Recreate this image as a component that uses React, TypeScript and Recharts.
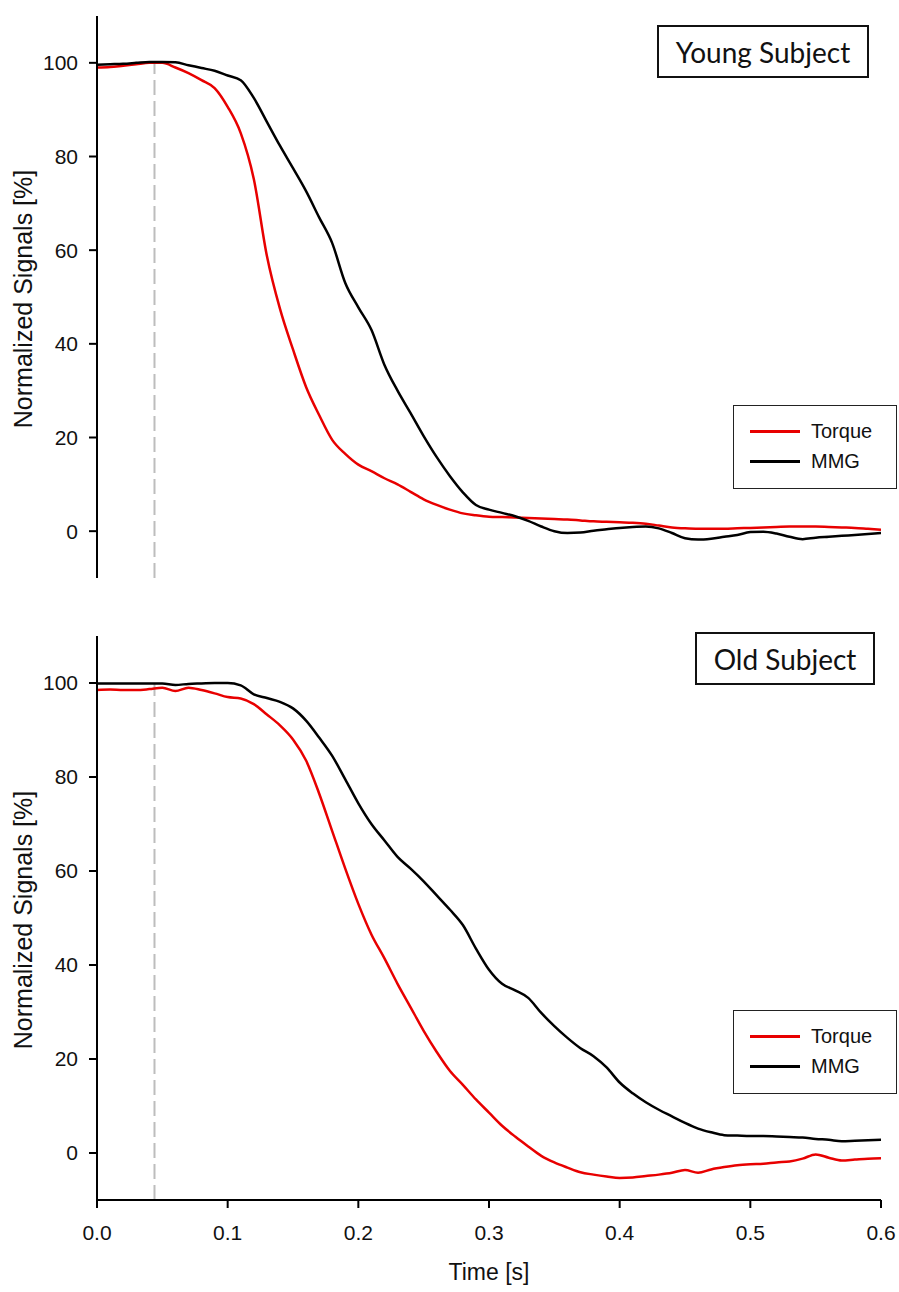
import React from 'react';
import { LineChart, Line, XAxis, YAxis, ReferenceLine, Label } from 'recharts';

const TIME = [
  0.0, 0.01, 0.02, 0.03, 0.04, 0.05, 0.06, 0.07, 0.08, 0.09,
  0.1, 0.11, 0.12, 0.13, 0.14, 0.15, 0.16, 0.17, 0.18, 0.19,
  0.2, 0.21, 0.22, 0.23, 0.24, 0.25, 0.26, 0.27, 0.28, 0.29,
  0.3, 0.31, 0.32, 0.33, 0.34, 0.35, 0.36, 0.37, 0.38, 0.39,
  0.4, 0.41, 0.42, 0.43, 0.44, 0.45, 0.46, 0.47, 0.48, 0.49,
  0.5, 0.51, 0.52, 0.53, 0.54, 0.55, 0.56, 0.57, 0.58, 0.59,
  0.6,
];

const YOUNG_TORQUE = [
  99.0, 99.1, 99.4, 99.7, 100.0, 100.0, 99.0, 97.8, 96.3, 94.6,
  90.6, 85.0, 75.2, 58.8, 47.5, 38.8, 30.8, 24.8, 19.5, 16.5,
  14.2, 12.8, 11.3, 10.0, 8.4, 6.8, 5.6, 4.6, 3.8, 3.4,
  3.1, 3.0, 2.9, 2.8, 2.7, 2.6, 2.5, 2.3, 2.1, 2.0,
  1.9, 1.8, 1.6, 1.2, 0.8, 0.6, 0.5, 0.5, 0.5, 0.6,
  0.7, 0.8, 0.9, 1.0, 1.0, 1.0, 0.9, 0.8, 0.7, 0.5,
  0.3,
];

const YOUNG_MMG = [
  99.6, 99.7, 99.8, 100.0, 100.2, 100.2, 100.1, 99.5, 98.9, 98.3,
  97.3, 96.3, 92.5, 87.4, 82.3, 77.5, 72.6, 67.0, 61.5, 53.0,
  47.8, 43.0, 35.5, 30.0, 25.2, 20.3, 15.8, 11.8, 8.3, 5.6,
  4.6, 3.9, 3.2, 2.2, 1.0, 0.0, -0.4, -0.3, 0.1, 0.4,
  0.7, 0.9, 1.0, 0.6, -0.4, -1.5, -1.8, -1.6, -1.2, -0.8,
  -0.2, -0.1, -0.5, -1.2, -1.7, -1.4, -1.2, -1.0, -0.8, -0.6,
  -0.4,
];

const OLD_TORQUE = [
  98.5, 98.6, 98.5, 98.5, 98.7, 99.0, 98.3, 99.0, 98.5, 97.8,
  97.0, 96.7, 95.5, 93.3, 91.0, 88.0, 83.5, 76.5, 68.5, 60.5,
  53.0, 46.5, 41.4, 36.0, 31.0, 26.0, 21.5, 17.5, 14.5, 11.4,
  8.6, 5.8, 3.5, 1.4, -0.6, -2.0, -3.1, -4.1, -4.6, -5.0,
  -5.3, -5.2, -4.9, -4.6, -4.2, -3.6, -4.2, -3.5, -3.0, -2.6,
  -2.4, -2.3, -2.0, -1.8, -1.2, -0.3, -1.0, -1.6, -1.4, -1.2,
  -1.1,
];

const OLD_MMG = [
  99.9, 99.9, 99.9, 99.9, 99.9, 99.9, 99.6, 99.8, 99.9, 100.0,
  100.0, 99.5, 97.6, 96.8, 96.0, 94.6, 92.0, 88.4, 84.5, 79.5,
  74.4, 70.0, 66.5, 63.0, 60.5, 57.8, 54.8, 51.8, 48.5, 43.5,
  39.0, 36.0, 34.6, 33.0, 29.8, 27.0, 24.5, 22.3, 20.6, 18.2,
  15.0, 12.7, 10.8, 9.2, 7.8, 6.4, 5.2, 4.4, 3.8, 3.7,
  3.6, 3.6, 3.5, 3.4, 3.3, 3.0, 2.8, 2.5, 2.6, 2.7,
  2.8,
];

const X_TICKS = [0, 0.1, 0.2, 0.3, 0.4, 0.5, 0.6];
const Y_TICKS = [0, 20, 40, 60, 80, 100];
const STIM_TIME = 0.044;
const TITLES = ['Young Subject', 'Old Subject'];
const SERIES = ['Torque', 'MMG'];

const AXIS_FONT = '"Liberation Sans", Arial, Helvetica, sans-serif';
const TITLE_FONT = 'Lato, "Open Sans", sans-serif';
const RED = '#e80000';
const BLACK = '#000000';
const SERIES_COLORS = [RED, BLACK];

const build = (torque: number[], mmg: number[]) =>
  TIME.map((t, i) => ({ t, torque: torque[i], mmg: mmg[i] }));

const youngData = build(YOUNG_TORQUE, YOUNG_MMG);
const oldData = build(OLD_TORQUE, OLD_MMG);

const LegendBox = ({ left, top }: { left: number; top: number }) => (
  <div
    style={{
      position: 'absolute',
      left,
      top,
      boxSizing: 'border-box',
      width: 164,
      height: 84,
      border: '1.5px solid #222',
      background: '#fff',
      paddingTop: 10,
      fontFamily: AXIS_FONT,
      fontSize: 20,
      color: '#111',
      zIndex: 5,
    }}
  >
    {SERIES.map((name, i) => (
      <div key={name} style={{ display: 'flex', alignItems: 'center', height: 30, marginLeft: 16 }}>
        <span style={{ display: 'inline-block', width: 50, height: 3, background: SERIES_COLORS[i], marginRight: 11 }} />
        <span>{name}</span>
      </div>
    ))}
  </div>
);

const YLabel = (props: any) => {
  const vb = props.viewBox || { y: 16, height: 562 };
  const cy = vb.y + vb.height / 2 + 2;
  return (
    <text
      x={23}
      y={cy}
      transform={`rotate(-90, 23, ${cy})`}
      textAnchor="middle"
      dominantBaseline="central"
      fontSize={25}
      fontFamily={AXIS_FONT}
      fill="#111"
    >
      Normalized Signals [%]
    </text>
  );
};

const XLabel = (props: any) => {
  const vb = props.viewBox || { x: 97, y: 600, width: 784 };
  return (
    <text
      x={vb.x + vb.width / 2}
      y={vb.y + 80}
      textAnchor="middle"
      fontSize={23}
      fontFamily={AXIS_FONT}
      fill="#111"
    >
      Time [s]
    </text>
  );
};

const tickStyle = { fontSize: 21, fontFamily: AXIS_FONT, fill: '#111' };

type PanelProps = {
  data: any[];
  height: number;
  margin: { top: number; right: number; left: number; bottom: number };
  showX: boolean;
};

const Panel = ({ data, height, margin, showX }: PanelProps) => (
  <LineChart width={899} height={height} data={data} margin={margin}>
    <XAxis
      dataKey="t"
      type="number"
      domain={[0, 0.6]}
      ticks={X_TICKS}
      tickFormatter={(v: number) => v.toFixed(1)}
      axisLine={{ stroke: BLACK, strokeWidth: 2 }}
      tickLine={showX ? { stroke: BLACK, strokeWidth: 2 } : false}
      tick={showX ? tickStyle : false}
      tickSize={8}
      tickMargin={17}
      height={showX ? 60 : 0}
      allowDataOverflow
    >
      {showX && <Label content={<XLabel />} />}
    </XAxis>
    <YAxis
      type="number"
      domain={[-10, 110]}
      ticks={Y_TICKS}
      width={60}
      axisLine={{ stroke: BLACK, strokeWidth: 2 }}
      tickLine={{ stroke: BLACK, strokeWidth: 2 }}
      tick={tickStyle}
      tickSize={8}
      tickMargin={11}
      allowDataOverflow
    >
      <Label content={<YLabel />} />
    </YAxis>
    <ReferenceLine
      segment={[
        { x: STIM_TIME, y: -10 },
        { x: STIM_TIME, y: 100 },
      ]}
      stroke="#bdbdbd"
      strokeWidth={2}
      strokeDasharray="15 6"
    />
    <Line
      type="monotone"
      dataKey="torque"
      name={SERIES[0]}
      stroke={RED}
      strokeWidth={2.5}
      dot={false}
      activeDot={false}
      isAnimationActive={false}
    />
    <Line
      type="monotone"
      dataKey="mmg"
      name={SERIES[1]}
      stroke={BLACK}
      strokeWidth={2.5}
      dot={false}
      activeDot={false}
      isAnimationActive={false}
    />
  </LineChart>
);

const TitleBox = ({ text, left, top, width }: { text: string; left: number; top: number; width: number }) => (
  <div
    style={{
      position: 'absolute',
      left,
      top,
      width,
      height: 53,
      boxSizing: 'border-box',
      border: '2px solid #111',
      background: '#fff',
      display: 'flex',
      alignItems: 'center',
      justifyContent: 'center',
      fontFamily: TITLE_FONT,
      fontSize: 28,
      color: '#111',
      zIndex: 5,
    }}
  >
    {text}
  </div>
);

export default function App() {
  return (
    <div style={{ position: 'absolute', left: 0, top: 0, width: 899, height: 1292, background: '#fff' }}>
      <div style={{ position: 'absolute', left: 0, top: 0 }}>
        <Panel
          data={youngData}
          height={600}
          margin={{ top: 16, right: 18, left: 37, bottom: 22 }}
          showX={false}
        />
      </div>
      <div style={{ position: 'absolute', left: 0, top: 600 }}>
        <Panel
          data={oldData}
          height={692}
          margin={{ top: 36, right: 18, left: 37, bottom: 32 }}
          showX={true}
        />
      </div>
      <TitleBox text={TITLES[0]} left={657} top={25} width={212} />
      <TitleBox text={TITLES[1]} left={695} top={632} width={180} />
      <LegendBox left={733} top={405} />
      <LegendBox left={733} top={1010} />
    </div>
  );
}
